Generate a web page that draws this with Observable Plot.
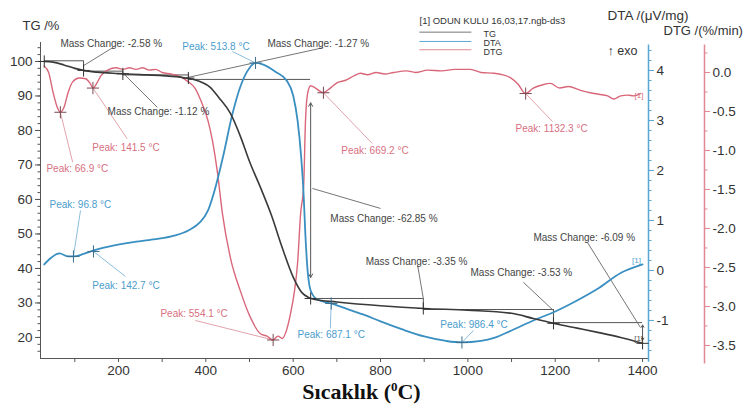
<!DOCTYPE html>
<html><head><meta charset="utf-8">
<script src="https://cdn.jsdelivr.net/npm/d3@7"></script>
<script src="https://cdn.jsdelivr.net/npm/@observablehq/plot@0.6"></script>
<style>body{margin:0;background:#fff} svg{display:block}</style>
</head><body><div id="chart"></div>
<script>
// ---- data (temperature °C, value) ----
const tgCurve = [[30,100],[50,99.8],[75,99],[100,98],[125,97.3],[150,96.9],[200,96.5],[250,96.2],[300,95.9],[350,95.3],[380,94.5],[410,92.5],[430,89.5],[456,85],[480,78],[500,71],[525,63.5],[550,55.5],[575,46],[600,37.5],[620,33],[635,31.6],[650,31],[700,30.3],[800,29.2],[900,28.4],[1000,27.9],[1100,27],[1150,25.5],[1200,24],[1250,22.7],[1300,21.4],[1350,20],[1400,18.3]];
const dtaCurve = [[30,0.12],[45,0.25],[65,0.34],[85,0.28],[97,0.28],[120,0.33],[143,0.4],[180,0.48],[230,0.56],[280,0.62],[330,0.7],[360,0.8],[385,0.95],[405,1.2],[420,1.6],[440,2.3],[460,3.1],[480,3.7],[500,4.05],[514,4.15],[530,4.12],[560,3.97],[585,3.8],[600,3.5],[610,3.0],[618,2.3],[624,1.5],[628,0.7],[633,0.0],[640,-0.4],[655,-0.58],[687,-0.66],[720,-0.76],[760,-0.88],[800,-1.02],[850,-1.18],[900,-1.32],[950,-1.41],[986,-1.44],[1030,-1.41],[1060,-1.35],[1100,-1.2],[1150,-1.0],[1200,-0.82],[1250,-0.6],[1300,-0.35],[1350,-0.05],[1380,0.06],[1400,0.12]];
const dtgCurve = [[30,0.08],[40,0.0],[50,-0.25],[60,-0.45],[67,-0.51],[75,-0.45],[85,-0.25],[95,-0.12],[110,-0.07],[125,-0.08],[135,-0.14],[142,-0.2],[150,-0.14],[160,-0.04],[175,0.03],[195,0.06],[210,0.04],[225,0.06],[240,0.04],[255,0.06],[270,0.03],[285,0.04],[300,0.0],[320,-0.02],[340,-0.05],[360,-0.12],[375,-0.2],[390,-0.38],[405,-0.62],[415,-0.87],[427,-1.3],[438,-1.81],[456,-2.37],[479,-2.8],[502,-3.14],[525,-3.35],[540,-3.38],[554,-3.43],[565,-3.38],[575,-3.41],[585,-3.3],[594,-3.09],[603,-2.8],[610,-2.45],[617,-1.81],[624,-1.45],[628,-0.65],[633,-0.27],[640,-0.17],[651,-0.2],[669,-0.26],[685,-0.2],[701,-0.13],[720,-0.1],[740,-0.04],[754,-0.01],[770,-0.03],[790,0.0],[810,-0.02],[830,0.0],[860,0.02],[880,0.0],[908,0.03],[940,0.02],[970,0.04],[1006,0.04],[1030,0.0],[1060,-0.01],[1080,-0.03],[1098,-0.07],[1115,-0.15],[1132,-0.27],[1150,-0.2],[1170,-0.16],[1189,-0.14],[1210,-0.2],[1230,-0.18],[1258,-0.23],[1280,-0.26],[1300,-0.28],[1320,-0.3],[1334,-0.34],[1350,-0.3],[1366,-0.29],[1380,-0.3],[1395,-0.27]];

// tick values
const xTicks = [100,200,300,400,500,600,700,800,900,1000,1100,1200,1300,1400];
const tgTicks = [20,30,40,50,60,70,80,90,100];
const dtaTicks = [-1,0,1,2,3,4];
const dtgTicks = [0,-0.5,-1,-1.5,-2,-2.5,-3,-3.5];

// peak annotations: series, label, marker (t,v), label start (lt,lv), leader end (et,ev)
const peaks = [
  {s:"DTG", label:"Peak: 66.9 °C",  t:66.9,  v:-0.51, lt:35,   lv:-1.24, et:95,   ev:-1.15},
  {s:"DTG", label:"Peak: 141.5 °C", t:141.5, v:-0.2,  lt:140,  lv:-0.96, et:220,  ev:-0.85},
  {s:"DTA", label:"Peak: 513.8 °C", t:513.8, v:4.15,  lt:346,  lv:4.48,  et:461,  ev:4.38},
  {s:"DTG", label:"Peak: 669.2 °C", t:669.2, v:-0.26, lt:710,  lv:-1.01, et:781,  ev:-0.91},
  {s:"DTG", label:"Peak: 1132.3 °C",t:1132.3,v:-0.27, lt:1109, lv:-0.72, et:1194, ev:-0.63},
  {s:"DTA", label:"Peak: 96.8 °C",  t:96.8,  v:0.28,  lt:42,   lv:1.32,  et:113,  ev:1.2},
  {s:"DTA", label:"Peak: 142.7 °C", t:142.7, v:0.38,  lt:140,  lv:-0.3,  et:216,  ev:-0.12},
  {s:"DTG", label:"Peak: 554.1 °C", t:554.1, v:-3.43, lt:296,  lv:-3.09, et:376,  ev:-3.18},
  {s:"DTA", label:"Peak: 687.1 °C", t:687.1, v:-0.66, lt:610,  lv:-1.28, et:685,  ev:-1.16},
  {s:"DTA", label:"Peak: 986.4 °C", t:986.4, v:-1.44, lt:937,  lv:-1.08, et:1013, ev:-1.2}
];

// mass change annotations (TG units)
const massLabels = [
  {label:"Mass Change: -2.58 %",  lt:67,   lv:105.2, a:[120,98.8],  b:[188,104.1]},
  {label:"Mass Change: -1.12 %",  lt:175,  lv:85.5,  a:[209,96.8],  b:[289,86.7]},
  {label:"Mass Change: -1.27 %",  lt:541,  lv:105.2, a:[360,95.4],  b:[669,104]},
  {label:"Mass Change: -62.85 %", lt:685,  lv:54.5,  a:[644,63.2],  b:[800,57.4]},
  {label:"Mass Change: -3.35 %",  lt:766,  lv:42,    a:[898,31.3],  b:[885,40.9]},
  {label:"Mass Change: -3.53 %",  lt:1006, lv:38.6,  a:[1196,27.8], b:[1127,36]},
  {label:"Mass Change: -6.09 %",  lt:1150, lv:49,    a:[1395,22.9], b:[1274,47.5]}
];
const steps = [
  {t0:30,   t1:120,  v0:100.2, v1:97.2, arrow:false},
  {t0:120,  t1:210,  v0:97.2,  v1:96.1, arrow:false},
  {t0:210,  t1:360,  v0:96.1,  v1:94.8, arrow:false},
  {t0:360,  t1:640,  v0:94.8,  v1:31.3, arrow:true, a0:88, a1:37.4},
  {t0:640,  t1:898,  v0:31.3,  v1:28.1, arrow:false},
  {t0:898,  t1:1196, v0:28.1,  v1:24.3, arrow:false},
  {t0:1196, t1:1400, v0:24.3,  v1:18.3, arrow:true, a0:23.6, a1:19.2}
];
const tgMarks = [[30,100],[120,97.4],[210,96.4],[360,95.2],[640,31.3],[898,28.4],[1196,24.1],[1400,18.3]];
const legendItems = ["TG", "DTA", "DTG"];

// ---- scales ----
const xDomain = [21.4, 1413.6], yDomain = [13.9, 105.5];
const dta2tg = v => 100 - (209 - 50*v)/3.45;
const dtg2tg = v => 100 - (11 - 78*v)/3.45;
const tg2dta = t => (209 - (100 - t)*3.45)/50;
const tg2dtg = t => (11 - (100 - t)*3.45)/78;

const cTG = "#3a3a3a", cDTA = "#3a8fc1", cDTG = "#d9677a";
const cDTAt = "#4c9dcb", cDTGt = "#d7707f";
const cDTAax = "#5aa7d3", cDTGax = "#e08894";
const gray = "#555";
const font = "Liberation Sans, Arial, sans-serif";
const TITLE = "Sıcaklık (⁰C)";

const pk = s => peaks.filter(d => d.s === s);
const f1 = v => { const r = Math.round(v*2)/2; return (r === 0 ? 0 : r).toFixed(1); };

const marks = [
  // frame lines
  Plot.ruleY([yDomain[0]], {stroke: gray}),
  Plot.ruleX([xDomain[0]], {stroke: gray}),
  Plot.ruleX([xDomain[1]], {y1: 104.8, y2: 12.8, stroke: cDTAax, strokeWidth: 1.5}),
  Plot.ruleX([xDomain[1]], {y1: 104.8, y2: 12.3, stroke: cDTGax, strokeWidth: 1.5, dx: 56}),
  // x axis
  Plot.axisX(xTicks, {anchor: "bottom", tickSize: 4, tickPadding: 3, stroke: gray, fill: "#333", fontSize: 13.5, label: null,
    tickFormat: d => d % 200 === 0 ? String(d) : ""}),
  // TG axis
  Plot.axisY(d3.range(8, 53).map(i => i*2), {anchor: "left", tickSize: 2.5, stroke: gray, label: null, tickFormat: () => ""}),
  Plot.axisY(tgTicks, {anchor: "left", tickSize: 5, tickPadding: 3, stroke: gray, fill: "#333", fontSize: 13.5, label: null, tickFormat: d => String(d)}),
  // DTA axis
  Plot.axisY(d3.range(-8, 23).map(i => dta2tg(i*0.2)), {anchor: "right", tickSize: 2.5, stroke: cDTAax, label: null, tickFormat: () => ""}),
  Plot.axisY(dtaTicks.map(dta2tg), {anchor: "right", tickSize: 5, tickPadding: 3, stroke: cDTAax, fill: "#333", fontSize: 13.5, label: null,
    tickFormat: d => String(Math.round(tg2dta(d)))}),
  // DTG axis
  Plot.axisY(d3.range(-14, 2).map(i => dtg2tg(i*0.25)), {anchor: "right", dx: 56, tickSize: 2.5, stroke: cDTGax, label: null, tickFormat: () => ""}),
  Plot.axisY(dtgTicks.map(dtg2tg), {anchor: "right", dx: 56, tickSize: 5, tickPadding: 3, stroke: cDTGax, fill: "#333", fontSize: 13.5, label: null,
    tickFormat: d => f1(tg2dtg(d))}),

  // mass change brackets
  Plot.ruleY(steps, {y: d => d.v0, x1: d => d.t0, x2: d => d.t1, stroke: gray, strokeWidth: 1}),
  Plot.ruleX(steps.filter(d => !d.arrow), {x: d => d.t1, y1: d => d.v0, y2: d => d.v1, stroke: gray, strokeWidth: 1}),
  Plot.arrow(steps.filter(d => d.arrow), {x1: d => d.t1, x2: d => d.t1, y1: d => (d.a0 + d.a1)/2, y2: d => d.a0, stroke: gray, strokeWidth: 1, headLength: 6}),
  Plot.arrow(steps.filter(d => d.arrow), {x1: d => d.t1, x2: d => d.t1, y1: d => (d.a0 + d.a1)/2, y2: d => d.a1, stroke: gray, strokeWidth: 1, headLength: 6}),
  Plot.link(massLabels, {x1: d => d.a[0], y1: d => d.a[1], x2: d => d.b[0], y2: d => d.b[1], stroke: "#666", strokeWidth: 0.9}),

  // peak leaders
  Plot.link(pk("DTA"), {x1: d => d.t, y1: d => dta2tg(d.v), x2: d => d.et, y2: d => dta2tg(d.ev), stroke: "#7fb6d6", strokeWidth: 0.9}),
  Plot.link(pk("DTG"), {x1: d => d.t, y1: d => dtg2tg(d.v), x2: d => d.et, y2: d => dtg2tg(d.ev), stroke: "#dc98a2", strokeWidth: 0.9}),

  // curves
  Plot.line(dtgCurve, {x: d => d[0], y: d => dtg2tg(d[1]), stroke: cDTG, strokeWidth: 1.4, curve: "monotone-x"}),
  Plot.line(dtaCurve, {x: d => d[0], y: d => dta2tg(d[1]), stroke: cDTA, strokeWidth: 1.8, curve: "monotone-x"}),
  Plot.line(tgCurve, {x: d => d[0], y: d => d[1], stroke: cTG, strokeWidth: 1.6, curve: "monotone-x"}),

  // markers
  Plot.dot(pk("DTA"), {x: d => d.t, y: d => dta2tg(d.v), symbol: "plus", r: 4, stroke: "#3a6f8f", strokeWidth: 1}),
  Plot.dot(pk("DTG"), {x: d => d.t, y: d => dtg2tg(d.v), symbol: "plus", r: 4, stroke: "#7a4a52", strokeWidth: 1}),
  Plot.dot(tgMarks, {x: d => d[0], y: d => d[1], symbol: "plus", r: 4, stroke: "#333", strokeWidth: 1}),

  // labels
  Plot.text(pk("DTA"), {x: d => d.lt, y: d => dta2tg(d.lv), text: d => d.label, textAnchor: "start", fontSize: 10, fill: cDTAt}),
  Plot.text(pk("DTG"), {x: d => d.lt, y: d => dtg2tg(d.lv), text: d => d.label, textAnchor: "start", fontSize: 10, fill: cDTGt}),
  Plot.text(massLabels, {x: d => d.lt, y: d => d.lv, text: d => d.label, textAnchor: "start", fontSize: 10, fill: "#444"}),
  Plot.text(["[1]"], {x: 1386, y: dta2tg(0.2), text: d => d, fontSize: 8, fill: cDTAt}),
  Plot.text(["[1]"], {x: 1392, y: dtg2tg(-0.29), text: d => d, fontSize: 8, fill: cDTGt}),
  Plot.text(["[1]"], {x: 1391, y: 19.7, text: d => d, fontSize: 8, fill: "#555"}),

  // legend swatches (above the frame)
  Plot.link([{c: "#777", v: 108.5}, {c: cDTAax, v: 105.8}, {c: cDTGax, v: 103.4}], {x1: 889, x2: 1008, y1: d => d.v, y2: d => d.v, stroke: d => d.c, strokeWidth: 1}),
  // legend labels
  ...legendItems.map((s, i) => Plot.text([s], {frameAnchor: "top-left", dx: 443, dy: [-12, -3, 6][i], text: d => d, fontSize: 9, fill: "#333"})),

  // header texts
  Plot.text(["TG /%"], {frameAnchor: "top-left", dx: -18, dy: -22, textAnchor: "start", text: d => d, fontSize: 13, fill: "#333"}),
  Plot.text(["[1] ODUN KULU 16,03,17.ngb-ds3"], {frameAnchor: "top-left", dx: 379, dy: -25, textAnchor: "start", text: d => d, fontSize: 9.5, fill: "#333"}),
  Plot.text(["DTA /(μV/mg)"], {frameAnchor: "top-right", dx: -41, dy: -32, textAnchor: "start", text: d => d, fontSize: 13.5, fill: "#333"}),
  Plot.text(["DTG /(%/min)"], {frameAnchor: "top-right", dx: 15, dy: -17, textAnchor: "start", text: d => d, fontSize: 13, fill: "#333"}),
  Plot.text(["↑ exo"], {frameAnchor: "top-right", dx: -41, dy: 4, textAnchor: "start", text: d => d, fontSize: 12.5, fill: "#333"}),
  Plot.text([TITLE], {frameAnchor: "bottom", dx: 17, dy: 40, text: d => d, fontSize: 22, fontWeight: "bold", fontFamily: "Liberation Serif, Times New Roman, serif", fill: "#111"})
];

const chart = Plot.plot({
  width: 752, height: 411,
  marginLeft: 40, marginRight: 104, marginTop: 42, marginBottom: 53,
  x: {domain: xDomain},
  y: {domain: yDomain},
  style: {fontFamily: font, background: "white", overflow: "visible"},
  marks
});
// superscript degree mark in the axis title
d3.select(chart).selectAll("text").filter(function() { return this.textContent === TITLE; }).each(function() {
  const el = d3.select(this);
  el.text(null);
  el.append("tspan").text("Sıcaklık (");
  el.append("tspan").attr("dy", -8).attr("font-size", 13).text("0");
  el.append("tspan").attr("dy", 8).text("C)");
});
document.getElementById("chart").appendChild(chart);
</script>
</body></html>
